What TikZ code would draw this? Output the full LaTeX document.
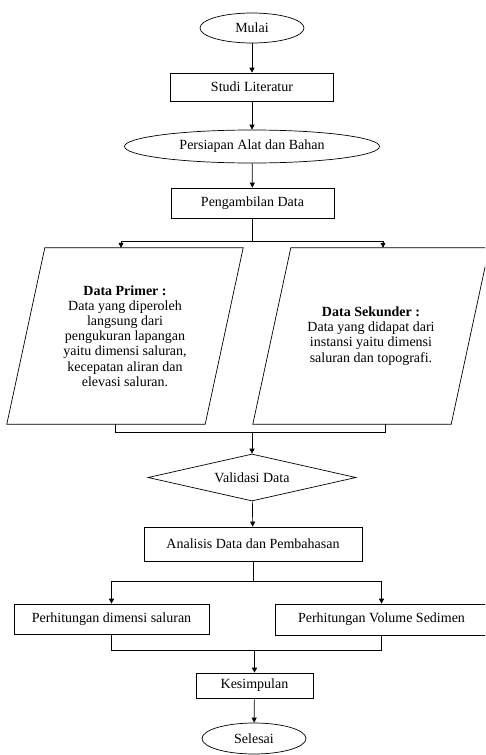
\documentclass[tikz,border=0pt]{standalone}
\usepackage{fontspec}
\setmainfont{Liberation Serif}
\usetikzlibrary{shapes.geometric, arrows.meta, positioning, calc}

\begin{document}
\begin{tikzpicture}[x=1pt, y=-1pt,
  every node/.style={font=\fontsize{14}{15.2}\selectfont},
  proses/.style={draw, rectangle, inner sep=0pt, line width=0.7pt},
  terminal/.style={draw, ellipse, inner sep=0pt, line width=0.7pt},
  datain/.style={rectangle, inner sep=0pt, align=center,
    minimum width=236pt, minimum height=176pt},
  keputusan/.style={draw, diamond, aspect=4.4, inner sep=0pt,
    minimum width=208pt, minimum height=47pt, line width=0.7pt},
  panah/.style={-{Triangle[length=5pt,width=5pt]}, line width=0.7pt},
  garis/.style={line width=0.7pt}
]
  \useasboundingbox (0,0) rectangle (485,755);
  \clip (0,0) rectangle (485,755);

  % Awal
  \node[terminal, minimum width=104pt, minimum height=30pt] (mulai) at (252,28) {Mulai};
  \node[proses, minimum width=163pt, minimum height=28pt] (studi) at (252,87) {Studi Literatur};
  \node[terminal, minimum width=255pt, minimum height=33pt] (persiapan) at (252,146.5) {Persiapan Alat dan Bahan};
  \node[proses, minimum width=163pt, minimum height=30pt] (ambil) at (252.5,203) {Pengambilan Data};

  % Data (jajaran genjang)
  \node[datain] (primer) at (125,336) {\textbf{Data Primer :}\\Data yang diperoleh\\langsung dari\\pengukuran lapangan\\yaitu dimensi saluran,\\kecepatan aliran dan\\elevasi saluran.};
  \node[datain] (sekunder) at (371,336) {\textbf{Data Sekunder :}\\Data yang didapat dari\\instansi yaitu dimensi\\saluran dan topografi.};
  \foreach \n in {primer, sekunder}
    \draw[garis] ([xshift=38pt]\n.north west) -- (\n.north east)
      -- ([xshift=-38pt]\n.south east) -- (\n.south west) -- cycle;

  % Validasi dan analisis
  \node[keputusan] (validasi) at (252,477.5) {Validasi Data};
  \node[proses, minimum width=218pt, minimum height=34pt] (analisis) at (253,544) {Analisis Data dan Pembahasan};
  \node[proses, minimum width=195pt, minimum height=30pt] (dimensi) at (111.5,619) {Perhitungan dimensi saluran};
  \node[proses, minimum width=213pt, minimum height=31pt] (sedimen) at (381.5,619.5) {Perhitungan Volume Sedimen};

  % Akhir
  \node[proses, minimum width=117pt, minimum height=25pt] (kesimpulan) at (254.5,685.5) {Kesimpulan};
  \node[terminal, minimum width=104pt, minimum height=31pt] (selesai) at (254,738.5) {Selesai};

  % Alur
  \draw[panah] (mulai) -- (studi);
  \draw[panah] (studi) -- (persiapan);
  \draw[panah] (persiapan) -- (ambil);
  \draw[garis] (ambil.south) -- ++(0,23) coordinate (cabang1);
  \draw[panah] (cabang1) -| ([xshift=-4pt]primer.north);
  \draw[panah] (cabang1) -| ([xshift=12pt]sekunder.north);
  \draw[garis] ([xshift=-10pt]primer.south) -- ++(0,8) coordinate (gabung1) -| ([xshift=14pt]sekunder.south);
  \draw[panah] (gabung1 -| validasi.north) -- (validasi.north);
  \draw[panah] (validasi) -- (analisis);
  \draw[garis] (analisis.south) -- ++(0,20) coordinate (cabang2);
  \draw[panah] (cabang2) -| (dimensi.north);
  \draw[panah] (cabang2) -| (sedimen.north);
  \draw[garis] (dimensi.south) -- ++(0,16) coordinate (gabung2) -| (sedimen.south);
  \draw[panah] (gabung2 -| kesimpulan.north) -- (kesimpulan.north);
  \draw[panah] (kesimpulan) -- (selesai);
\end{tikzpicture}
\end{document}
